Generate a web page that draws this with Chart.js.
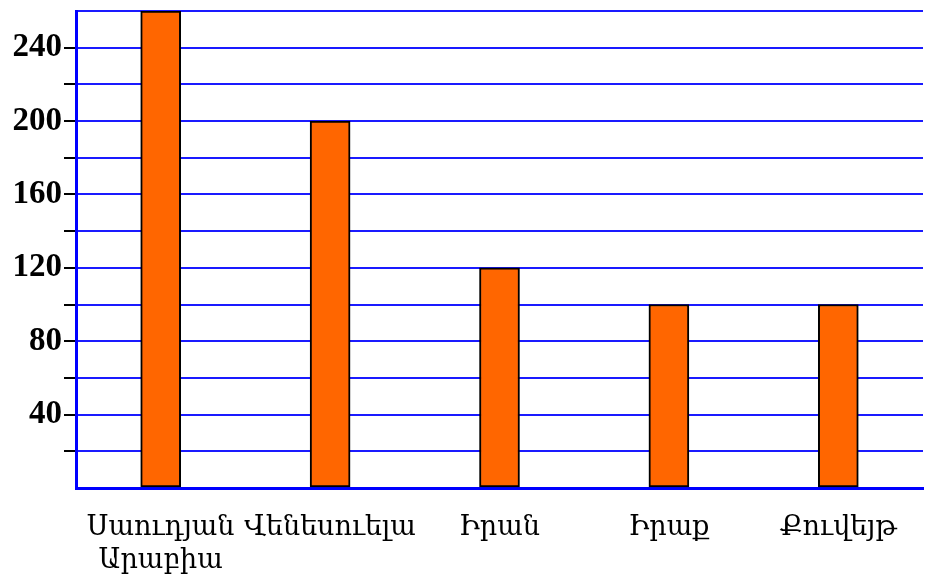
<!DOCTYPE html>
<html>
<head>
<meta charset="utf-8">
<script src="https://cdn.jsdelivr.net/npm/chart.js@4"></script>
<style>
  body { margin: 0; background: #fff; }
</style>
</head>
<body>
<canvas id="chart" width="952" height="581"></canvas>
<script>
const countries = [["Սաուդյան", "Արաբիա"], "Վենեսուելա", "Իրան", "Իրաք", "Քուվեյթ"];
const values = [260, 200, 120, 100, 100];
const yLabels = [40, 80, 120, 160, 200, 240];

const blue = "#1a1aff";

new Chart(document.getElementById("chart"), {
  type: "bar",
  data: {
    labels: countries,
    datasets: [{
      data: values,
      backgroundColor: "#ff6600",
      borderColor: "#000",
      borderWidth: 2,
      borderSkipped: false,
      barThickness: 40
    }]
  },
  options: {
    responsive: false,
    animation: false,
    layout: { padding: { top: 11, right: 29 } },
    plugins: { legend: { display: false }, tooltip: { enabled: false } },
    scales: {
      x: {
        grid: { display: false },
        border: { color: "#0000ff", width: 3 },
        ticks: {
          color: "#000",
          padding: 16,
          maxRotation: 0,
          autoSkip: false,
          font: { family: "'Liberation Serif', 'DejaVu Serif', serif", size: 27, lineHeight: 1.2 }
        },
        afterFit: s => { s.height = 93; }
      },
      y: {
        min: 0,
        max: 260,
        ticks: {
          stepSize: 20,
          autoSkip: false,
          color: "#000",
          padding: 2,
          callback: v => yLabels.includes(v) ? v : "",
          font: { family: "'Times New Roman', 'Liberation Serif', serif", size: 33, weight: "bold" }
        },
        grid: {
          color: blue,
          lineWidth: 2,
          tickLength: 12,
          tickWidth: 2,
          tickColor: ctx => (ctx.tick && (ctx.tick.value === 0 || ctx.tick.value === 260)) ? "rgba(0,0,0,0)" : "#000"
        },
        border: { color: "#0000ff", width: 3 },
        afterFit: s => {
          s.width = 76;
          s.paddingTop = 0;
          s.paddingBottom = 0;
        }
      }
    }
  }
});
</script>
</body>
</html>
